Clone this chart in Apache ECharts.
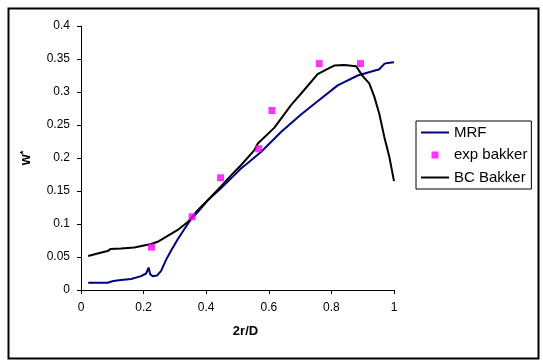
<!DOCTYPE html>
<html>
<head>
<meta charset="utf-8">
<script src="https://cdn.jsdelivr.net/npm/echarts@6/dist/echarts.min.js"></script>
<style>
html,body{margin:0;padding:0;background:#fff;}
#chart{width:543px;height:362px;}
</style>
</head>
<body>
<div id="chart"></div>
<script>
// ---- data ----
var mrfX = [0.023,0.05,0.085,0.103,0.128,0.16,0.192,0.208,0.216,0.221,0.229,0.243,0.256,0.272,0.288,0.309,0.33,0.351,0.373,0.405,0.447,0.49,0.511,0.532,0.575,0.639,0.703,0.756,0.82,0.884,0.942,0.952,0.97,0.98,1.0];
var mrfY = [0.011,0.011,0.011,0.0136,0.015,0.0166,0.021,0.025,0.034,0.024,0.021,0.022,0.029,0.046,0.060,0.077,0.092,0.107,0.118,0.136,0.154,0.174,0.184,0.192,0.209,0.2395,0.266,0.286,0.310,0.325,0.333,0.334,0.343,0.344,0.345];

var bcX = [0.023,0.05,0.075,0.085,0.094,0.128,0.17,0.224,0.245,0.277,0.309,0.341,0.373,0.405,0.447,0.49,0.511,0.554,0.565,0.618,0.671,0.713,0.756,0.788,0.809,0.841,0.879,0.9,0.921,0.937,0.953,0.969,0.985,1.0];
var bcY = [0.0515,0.055,0.058,0.059,0.062,0.063,0.0645,0.0696,0.073,0.082,0.091,0.103,0.121,0.136,0.157,0.179,0.189,0.212,0.222,0.246,0.280,0.303,0.327,0.335,0.340,0.341,0.339,0.324,0.313,0.293,0.267,0.232,0.202,0.165];

var expX = [0.225,0.355,0.446,0.568,0.610,0.761,0.893];
var expY = [0.065,0.111,0.170,0.214,0.272,0.343,0.343];

var seriesNames = ['MRF','exp bakker','BC Bakker'];
var xTitle = '2r/D';

function zip(a,b){ return a.map(function(v,i){ return [v,b[i]]; }); }

var FONT = "'Liberation Sans', Arial, sans-serif";
// square marker icon centred in a 28x8 legend slot (zero-area guide subpaths keep the box)
var squareIcon = 'path://M0,0L28,0L28,0Z M0,8L28,8L28,8Z M10.5,0.5L17.5,0.5L17.5,7.5L10.5,7.5Z';
var chart = echarts.init(document.getElementById('chart'), null, {renderer:'canvas'});
chart.setOption({
  animation: false,
  backgroundColor: '#fff',
  textStyle: {fontFamily: FONT, color: '#000'},
  grid: {left: 81, right: 149, top: 26, bottom: 72, containLabel: false},
  graphic: [{
    type: 'rect', left: 6, top: 6, z: 100,
    shape: {width: 530, height: 350},
    style: {fill: 'none', stroke: '#000', lineWidth: 2}
  }],
  legend: {
    orient: 'vertical', left: 416, top: 121,
    padding: [4, 4, 4, 4],
    itemGap: 7.5, itemWidth: 28, itemHeight: 8,
    borderColor: '#000', borderWidth: 1,
    textStyle: {fontFamily: FONT, fontSize: 15, color: '#000'},
    data: [
      {name: seriesNames[0], itemStyle: {opacity: 0}},
      {name: seriesNames[1], icon: squareIcon},
      {name: seriesNames[2], itemStyle: {opacity: 0}}
    ]
  },
  xAxis: {
    type: 'value', min: 0, max: 1, interval: 0.2,
    name: xTitle, nameLocation: 'middle', nameGap: 35,
    nameTextStyle: {fontFamily: FONT, fontSize: 13, fontWeight: 'bold', color: '#000', padding: [0,0,0,16]},
    axisLine: {show: true, onZero: false, lineStyle: {color: '#000', width: 1}},
    axisTick: {show: true, inside: false, length: 4, lineStyle: {color: '#000'}},
    axisLabel: {fontFamily: FONT, fontSize: 12, color: '#000', margin: 12},
    splitLine: {show: false}
  },
  yAxis: {
    type: 'value', min: 0, max: 0.4, interval: 0.05,
    name: '{w|w}{s|*}', nameLocation: 'middle', nameGap: 48, nameRotate: 90,
    nameTextStyle: {
      fontFamily: FONT, color: '#000',
      rich: {
        w: {fontFamily: FONT, fontSize: 14, fontWeight: 'bold', color: '#000'},
        s: {fontFamily: FONT, fontSize: 9, fontWeight: 'bold', color: '#000', verticalAlign: 'top'}
      }
    },
    axisLine: {show: true, lineStyle: {color: '#000', width: 1}},
    axisTick: {show: true, inside: false, length: 4, lineStyle: {color: '#000'}},
    axisLabel: {fontFamily: FONT, fontSize: 12, color: '#000', margin: 11},
    splitLine: {show: false}
  },
  series: [
    {
      name: seriesNames[0], type: 'line', data: zip(mrfX, mrfY),
      symbol: 'none', lineStyle: {color: '#000080', width: 2}, itemStyle: {color: '#000080'}, z: 2
    },
    {
      name: seriesNames[1], type: 'scatter', data: zip(expX, expY),
      symbol: 'rect', symbolSize: 7, itemStyle: {color: '#FF00FF'}, z: 4
    },
    {
      name: seriesNames[2], type: 'line', data: zip(bcX, bcY),
      symbol: 'none', lineStyle: {color: '#000000', width: 2}, itemStyle: {color: '#000000'}, z: 3
    }
  ]
});
</script>
</body>
</html>
